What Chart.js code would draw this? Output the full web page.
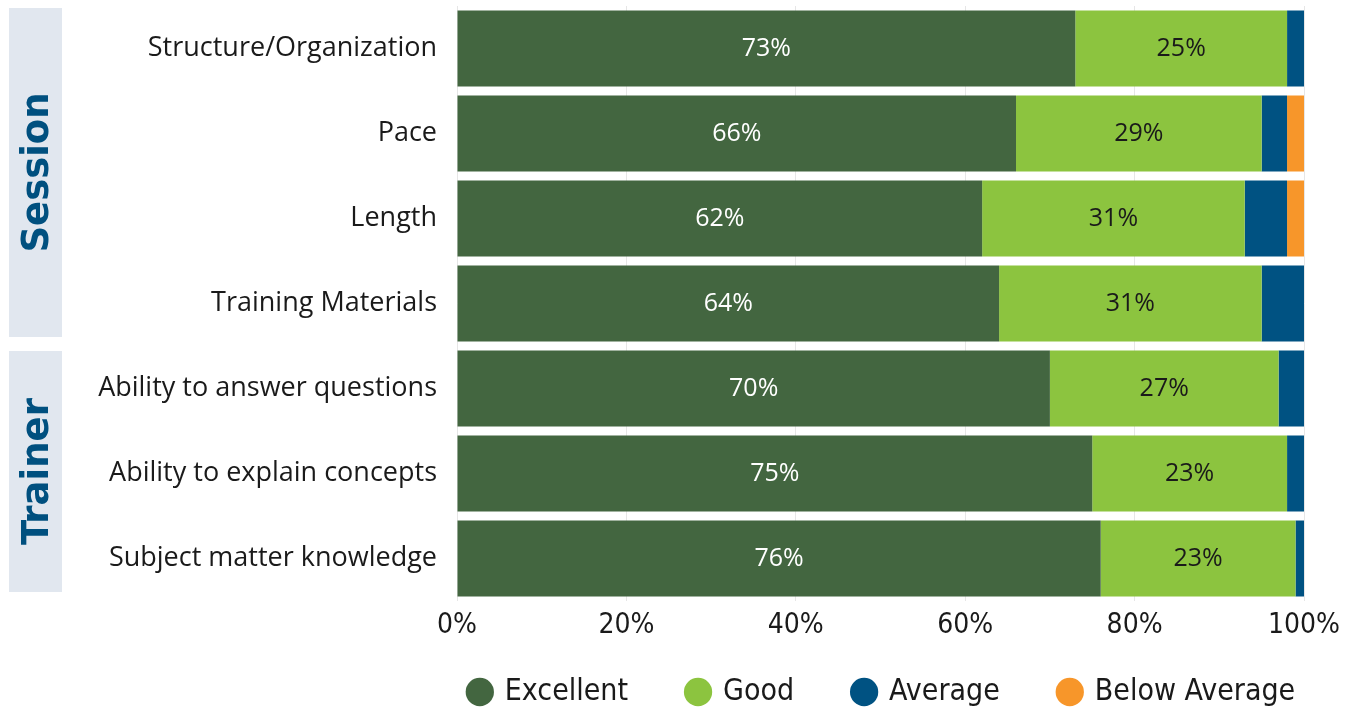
<!DOCTYPE html>
<html>
<head>
<meta charset="utf-8">
<script src="https://cdn.jsdelivr.net/npm/chart.js@4"></script>
<style>
  html, body { margin: 0; padding: 0; background: #fff; }
  #wrap { width: 1354px; height: 708px; }
</style>
</head>
<body>
<div id="wrap"><canvas id="myChart"></canvas></div>
<script>
const categories = [
  'Structure/Organization',
  'Pace',
  'Length',
  'Training Materials',
  'Ability to answer questions',
  'Ability to explain concepts',
  'Subject matter knowledge'
];
const excellent = [73, 66, 62, 64, 70, 75, 76];
const good = [25, 29, 31, 31, 27, 23, 23];
const average = [2, 3, 5, 5, 3, 2, 1];
const belowAverage = [0, 2, 2, 0, 0, 0, 0];
const groupNames = ['Session', 'Trainer'];
const groupSizes = [4, 3];
const xTicks = [0, 20, 40, 60, 80, 100];

const LABEL_FONT = '"Open Sans", Lato, sans-serif';
const NARROW_FONT = '"Liberation Sans Narrow", "DejaVu Sans Condensed", sans-serif';

// white text on dark green, dark text on light green
const barLabels = {
  id: 'barLabels',
  afterDatasetsDraw(chart) {
    const ctx = chart.ctx;
    ctx.save();
    ctx.font = '25px ' + LABEL_FONT;
    ctx.textAlign = 'center';
    ctx.textBaseline = 'middle';
    [0, 1].forEach(di => {
      const meta = chart.getDatasetMeta(di);
      ctx.fillStyle = di === 0 ? '#ffffff' : '#1a1a1a';
      meta.data.forEach((bar, i) => {
        const v = chart.data.datasets[di].data[i];
        const x = (bar.x + bar.base) / 2;
        ctx.fillText(v + '%', x, bar.y);
      });
    });
    ctx.restore();
  }
};

// grey boxes with the rotated group names
const groupBoxes = {
  id: 'groupBoxes',
  beforeDraw(chart) {
    const ctx = chart.ctx;
    const y = chart.scales.y;
    const band = y.getPixelForValue(1) - y.getPixelForValue(0);
    let start = 0;
    ctx.save();
    groupNames.forEach((name, g) => {
      const end = start + groupSizes[g] - 1;
      const top = y.getPixelForValue(start) - band / 2 + (g === 0 ? 2 : 5);
      const bottom = y.getPixelForValue(end) + band / 2 - 9;
      ctx.fillStyle = '#e1e7ef';
      ctx.fillRect(9, top, 53, bottom - top);
      ctx.save();
      ctx.translate(38, (top + bottom) / 2);
      ctx.rotate(-Math.PI / 2);
      ctx.fillStyle = '#00507f';
      ctx.font = 'bold 37px "DejaVu Sans", sans-serif';
      ctx.textAlign = 'center';
      ctx.textBaseline = 'middle';
      ctx.fillText(name, 0, 0);
      ctx.restore();
      start = end + 1;
    });
    ctx.restore();
  }
};

// centre the legend row under the plot area and pull it up a bit
const legendShift = {
  id: 'legendShift',
  beforeDraw(chart) {
    const lg = chart.legend;
    const pad = lg.options.labels.padding;
    const rowW = lg.lineWidths[0] - pad;
    const mid = (chart.chartArea.left + chart.chartArea.right) / 2;
    const w = lg.right - lg.left;
    lg.left = mid - rowW / 2 - pad + 2;
    lg.right = lg.left + w;
    lg.top -= 26;
    lg.bottom -= 26;
  }
};

const ctx = document.getElementById('myChart');
new Chart(ctx, {
  type: 'bar',
  data: {
    labels: categories,
    datasets: [
      { label: 'Excellent', data: excellent, backgroundColor: '#436640' },
      { label: 'Good', data: good, backgroundColor: '#8cc43f' },
      { label: 'Average', data: average, backgroundColor: '#005282' },
      { label: 'Below Average', data: belowAverage, backgroundColor: '#f7962a' }
    ]
  },
  options: {
    indexAxis: 'y',
    responsive: true,
    maintainAspectRatio: false,
    animation: false,
    barPercentage: 1,
    categoryPercentage: 0.894,
    layout: { padding: { top: 6, right: 50, left: 0, bottom: -35 } },
    scales: {
      x: {
        stacked: true,
        min: 0,
        max: 100,
        afterBuildTicks(scale) {
          scale.ticks = xTicks.map(v => ({ value: v }));
        },
        afterFit(scale) { scale.height = 42; },
        grid: { color: '#e6e6e6', drawTicks: false },
        border: { display: false },
        ticks: {
          padding: 8,
          color: '#1a1a1a',
          font: { family: NARROW_FONT, size: 28 },
          callback: v => v + '%'
        }
      },
      y: {
        stacked: true,
        afterFit(scale) {
          scale.width = 457;
          scale.paddingTop = 0;
          scale.paddingBottom = 0;
        },
        grid: { display: false, drawTicks: false },
        border: { display: false },
        ticks: {
          padding: 20,
          color: '#1a1a1a',
          font: { family: LABEL_FONT, size: 27 }
        }
      }
    },
    plugins: {
      legend: {
        position: 'bottom',
        align: 'start',
        labels: {
          usePointStyle: true,
          pointStyle: 'circle',
          boxWidth: 20,
          boxHeight: 20,
          padding: 60,
          color: '#1a1a1a',
          font: { family: NARROW_FONT, size: 30 }
        }
      },
      tooltip: { enabled: false }
    }
  },
  plugins: [groupBoxes, barLabels, legendShift]
});
</script>
</body>
</html>
